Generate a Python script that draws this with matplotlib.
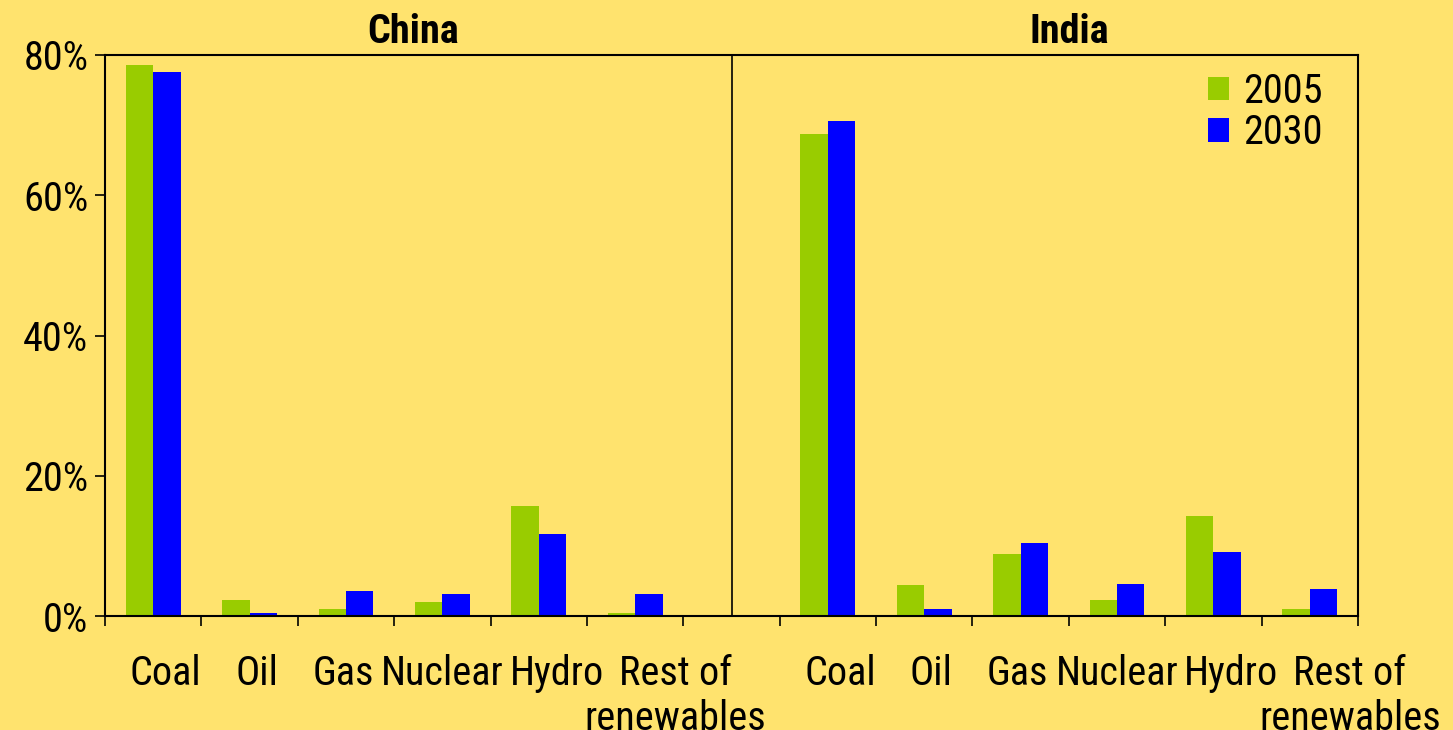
import numpy as np
import matplotlib
matplotlib.use("Agg")
import matplotlib.pyplot as plt
import matplotlib.transforms as mtransforms

plt.rcParams["font.family"] = ["Roboto Condensed", "Liberation Sans", "DejaVu Sans"]

# data (share of electricity generation, %)
fuels = ["Coal", "Oil", "Gas", "Nuclear", "Hydro", "Rest of\nrenewables"]
china_2005 = [78.5, 2.3, 1.0, 2.0, 15.7, 0.4]
china_2030 = [77.6, 0.4, 3.6, 3.1, 11.7, 3.1]
india_2005 = [68.8, 4.4, 8.8, 2.3, 14.3, 1.0]
india_2030 = [70.6, 1.0, 10.4, 4.6, 9.1, 3.9]
years = ["2005", "2030"]
regions = ["China", "India"]

bg = "#FFE36E"
green = "#99CC00"
blue = "#0000FF"

fig = plt.figure(figsize=(14.53, 7.30), dpi=100, facecolor=bg)
ax = fig.add_axes([0.0723, 0.156, 0.8623, 0.7687], facecolor=bg)

n = len(fuels)
x_china = np.arange(n)
x_india = np.arange(n) + n + 1
w = 0.285

ax.bar(x_china - w / 2, china_2005, w, color=green, label=years[0])
ax.bar(x_china + w / 2, china_2030, w, color=blue, label=years[1])
ax.bar(x_india - w / 2, india_2005, w, color=green)
ax.bar(x_india + w / 2, india_2030, w, color=blue)

ax.set_xlim(-0.5, 2 * n + 0.5)
ax.set_ylim(0, 80)
ax.axvline(n, color="black", lw=1.2)

for s in ax.spines.values():
    s.set_linewidth(1.5)

ax.set_yticks([0, 20, 40, 60, 80])
ax.set_yticklabels([f"{v}%" for v in [0, 20, 40, 60, 80]])
ax.tick_params(axis="y", labelsize=29, length=7, width=1.2, pad=5)

ax.set_xticks(np.concatenate([x_china, x_india]))
ax.set_xticklabels(fuels + fuels)
ax.set_xticks(np.arange(-0.5, 2 * n + 1), minor=True)
ax.tick_params(axis="x", which="major", length=0, labelsize=29, pad=27)
ax.tick_params(axis="x", which="minor", length=7, width=1.2)

# the original labels sit a little off-centre; nudge them (pixels)
nudge = {"Coal": 12, "Oil": 7, "Gas": -3, "Nuclear": 0, "Hydro": 18}
for lab in ax.get_xticklabels():
    dx = nudge.get(lab.get_text(), 40)
    shift = mtransforms.ScaledTranslation(dx / 100, 0, fig.dpi_scale_trans)
    lab.set_transform(lab.get_transform() + shift)
    lab.set_linespacing(1.2)

ax.text(2.7, 81.7, regions[0], ha="center", va="baseline",
        fontsize=29, fontweight="bold")
ax.text(x_india.mean(), 81.7, regions[1], ha="center", va="baseline",
        fontsize=29, fontweight="bold")

ax.legend(loc="upper right", bbox_to_anchor=(0.991, 1.013), frameon=False,
          fontsize=29, handlelength=0.52, handleheight=0.52, handletextpad=0.35,
          labelspacing=0.06, borderaxespad=0.2)

fig.savefig("out.png", dpi=100, facecolor=bg)
